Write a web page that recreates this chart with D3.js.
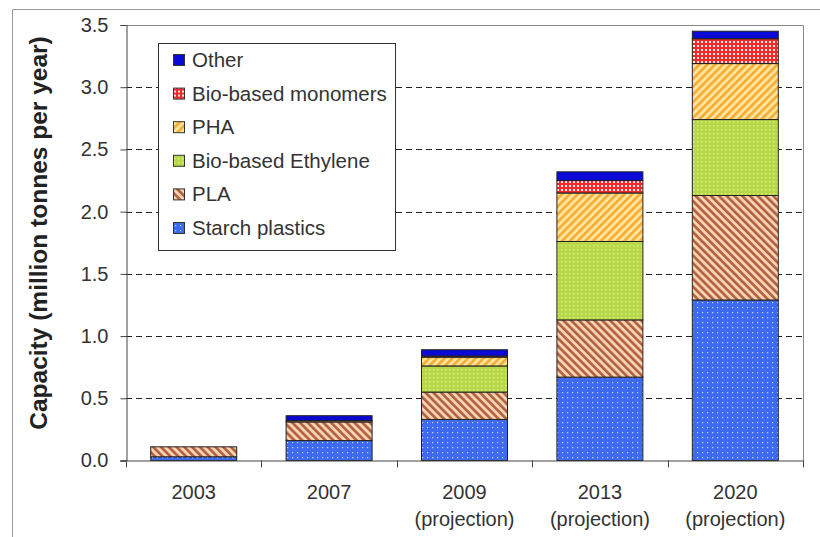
<!DOCTYPE html>
<html>
<head>
<meta charset="utf-8">
<script src="https://cdn.jsdelivr.net/npm/d3@7"></script>
<style>
  body { margin: 0; background: #fff; }
  svg { font-family: "Liberation Sans", Arial, sans-serif; }
</style>
</head>
<body>
<svg id="chart" width="820" height="537"></svg>
<script>
// categories and series (million tonnes per year)
const years = ['2003', '2007', '2009', '2013', '2020'];
const subLabels = ['', '', '(projection)', '(projection)', '(projection)'];
const starch = [0.03, 0.16, 0.33, 0.67, 1.29];
const pla = [0.08, 0.15, 0.22, 0.46, 0.84];
const ethylene = [0, 0, 0.21, 0.63, 0.61];
const pha = [0, 0.01, 0.07, 0.39, 0.45];
const monomers = [0, 0, 0.01, 0.10, 0.20];
const other = [0, 0.04, 0.05, 0.07, 0.06];
const seriesNames = ['Starch plastics', 'PLA', 'Bio-based Ethylene', 'PHA', 'Bio-based monomers', 'Other'];
const seriesValues = [starch, pla, ethylene, pha, monomers, other];
const yTicks = [0, 0.5, 1, 1.5, 2, 2.5, 3, 3.5];

const svg = d3.select('#chart');

// outer frame of the figure
svg.append('path')
    .attr('d', 'M12.5,537 V9.5 H820')
    .attr('fill', 'none')
    .attr('stroke', '#999')
    .attr('stroke-width', 1);

const plotLeft = 126, plotRight = 803, plotTop = 25, plotBottom = 460.5;

const xScale = d3.scaleBand()
    .domain(years)
    .range([plotLeft, plotRight])
    .paddingInner(0.365)
    .paddingOuter(0.1825);

const yScale = d3.scaleLinear()
    .domain([0, 3.5])
    .range([plotBottom, plotTop]);

// patterns
const defs = svg.append('defs');

const dots = defs.append('pattern').attr('id', 'p0')
    .attr('patternUnits', 'userSpaceOnUse').attr('width', 5).attr('height', 5);
dots.append('rect').attr('width', 5).attr('height', 5).attr('fill', '#3d6af0');
dots.append('rect').attr('x', 2).attr('y', 2).attr('width', 1.2).attr('height', 1.2).attr('fill', '#c8d6ff');

const stripes = (id, bg, fg, angle) => {
    const p = defs.append('pattern').attr('id', id)
        .attr('patternUnits', 'userSpaceOnUse').attr('width', 5.5).attr('height', 5.5)
        .attr('patternTransform', `rotate(${angle})`);
    p.append('rect').attr('width', 5.5).attr('height', 5.5).attr('fill', bg);
    p.append('rect').attr('width', 2.6).attr('height', 5.5).attr('fill', fg);
};
stripes('p1', '#f7d2b4', '#b0603a', -45);
stripes('p3', '#ffe49a', '#f3ac34', 45);

const grid = defs.append('pattern').attr('id', 'p2')
    .attr('patternUnits', 'userSpaceOnUse').attr('width', 4).attr('height', 4);
grid.append('rect').attr('width', 4).attr('height', 4).attr('fill', '#b8d84c');
grid.append('rect').attr('x', 1).attr('y', 1).attr('width', 1.5).attr('height', 1.5).attr('fill', '#e0f078');

const checker = defs.append('pattern').attr('id', 'p4')
    .attr('patternUnits', 'userSpaceOnUse').attr('width', 4).attr('height', 4);
checker.append('rect').attr('width', 4).attr('height', 4).attr('fill', '#ee2a2a');
checker.append('rect').attr('x', 1).attr('y', 1).attr('width', 2).attr('height', 2).attr('fill', '#ffe8e8');

const solid = defs.append('pattern').attr('id', 'p5')
    .attr('patternUnits', 'userSpaceOnUse').attr('width', 4).attr('height', 4);
solid.append('rect').attr('width', 4).attr('height', 4).attr('fill', '#0a0ad6');

const fills = seriesNames.map((d, i) => `url(#p${i})`);

// gridlines
svg.append('g')
    .selectAll('line')
    .data(yTicks.filter(d => d > 0 && d < 3.5))
    .join('line')
    .attr('x1', plotLeft).attr('x2', plotRight)
    .attr('y1', d => Math.round(yScale(d)) + 0.5)
    .attr('y2', d => Math.round(yScale(d)) + 0.5)
    .attr('stroke', '#222')
    .attr('stroke-dasharray', '6,4');

// plot border top and right
svg.append('path')
    .attr('d', `M${plotLeft},${plotTop + 0.5} H${plotRight + 0.5} V${plotBottom}`)
    .attr('fill', 'none')
    .attr('stroke', '#888');

// stacked bars
const table = years.map((y, i) => {
    const row = { year: y };
    seriesNames.forEach((s, j) => { row[s] = seriesValues[j][i]; });
    return row;
});
const stacked = d3.stack().keys(seriesNames)(table);

svg.append('g')
    .selectAll('g')
    .data(stacked)
    .join('g')
    .attr('fill', (d, i) => fills[i])
    .selectAll('rect')
    .data(d => d.filter(e => e[1] - e[0] > 0))
    .join('rect')
    .attr('x', d => xScale(d.data.year))
    .attr('y', d => yScale(d[1]))
    .attr('width', xScale.bandwidth())
    .attr('height', d => yScale(d[0]) - yScale(d[1]))
    .attr('stroke', '#222')
    .attr('stroke-width', 1);

// y axis
const yAxis = svg.append('g')
    .attr('transform', `translate(${plotLeft + 0.5},0)`)
    .call(d3.axisLeft(yScale).tickValues(yTicks).tickFormat(d3.format('.1f')).tickSizeOuter(0).tickSize(6));
yAxis.select('.domain').attr('stroke', '#444');
yAxis.selectAll('.tick line').attr('stroke', '#444');
yAxis.selectAll('.tick text')
    .attr('font-size', 20)
    .attr('fill', '#333')
    .attr('x', -18)
    .attr('font-family', '"Liberation Sans", Arial, sans-serif');

// x axis line and ticks between categories
const xAxis = svg.append('g');
xAxis.append('line')
    .attr('x1', plotLeft - 6).attr('x2', plotRight + 1)
    .attr('y1', plotBottom + 0.5).attr('y2', plotBottom + 0.5)
    .attr('stroke', '#444');
const boundaries = years.map(y => xScale(y) - xScale.step() * xScale.paddingInner() / 2)
    .concat([xScale(years[years.length - 1]) + xScale.bandwidth() + xScale.step() * xScale.paddingInner() / 2]);
xAxis.selectAll('.bt')
    .data(boundaries)
    .join('line')
    .attr('class', 'bt')
    .attr('x1', d => Math.round(d) + 0.5).attr('x2', d => Math.round(d) + 0.5)
    .attr('y1', plotBottom).attr('y2', plotBottom + 7)
    .attr('stroke', '#444');

const labels = xAxis.selectAll('.lab')
    .data(years)
    .join('text')
    .attr('class', 'lab')
    .attr('x', d => xScale(d) + xScale.bandwidth() / 2)
    .attr('text-anchor', 'middle')
    .attr('font-size', 20)
    .attr('fill', '#333');
labels.append('tspan').attr('x', d => xScale(d) + xScale.bandwidth() / 2).attr('y', 499).text(d => d);
labels.append('tspan').attr('x', d => xScale(d) + xScale.bandwidth() / 2).attr('y', 526).text((d, i) => subLabels[i]);

// y title
svg.append('text')
    .attr('transform', 'translate(47,233) rotate(-90)')
    .attr('text-anchor', 'middle')
    .attr('font-size', 24.5)
    .attr('font-weight', 'bold')
    .attr('fill', '#222')
    .text('Capacity (million tonnes per year)');

// legend
const legend = svg.append('g');
legend.append('rect')
    .attr('x', 158.5).attr('y', 43.5)
    .attr('width', 237).attr('height', 207)
    .attr('fill', '#fff')
    .attr('stroke', '#333');
const legendItems = seriesNames.slice().reverse();
const li = legend.selectAll('.li')
    .data(legendItems)
    .join('g')
    .attr('class', 'li')
    .attr('transform', (d, i) => `translate(173,${60 + i * 33.6})`);
li.append('rect')
    .attr('x', 0.5).attr('y', -5.5)
    .attr('width', 11).attr('height', 11)
    .attr('fill', d => fills[seriesNames.indexOf(d)])
    .attr('stroke', '#333');
li.append('text')
    .attr('x', 19)
    .attr('y', 7)
    .attr('font-size', 20.5)
    .attr('fill', '#333')
    .text(d => d);
</script>
</body>
</html>
